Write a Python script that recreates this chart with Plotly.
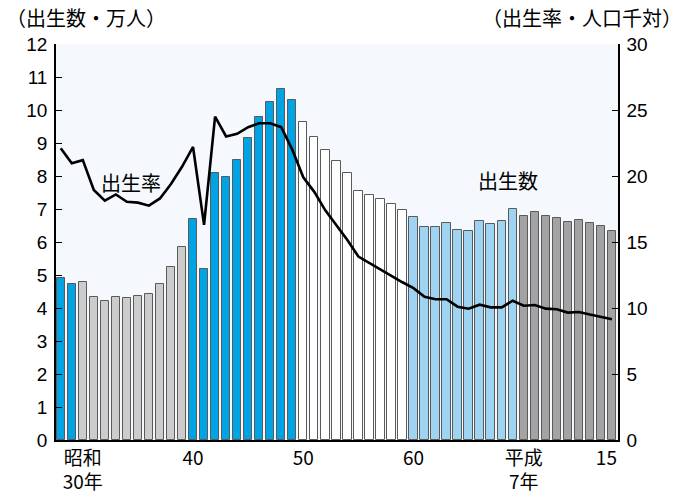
import plotly.graph_objects as go

years = list(range(1953, 2004))
births = [4.90, 4.73, 4.80, 4.34, 4.21, 4.34, 4.31, 4.36, 4.43, 4.72,
          5.23, 5.86, 6.69, 5.17, 8.10, 7.98, 8.49, 9.14, 9.78, 10.24,
          10.64, 10.29, 9.63, 9.19, 8.79, 8.46, 8.08, 7.55, 7.41, 7.29,
          7.14, 6.98, 6.75, 6.46, 6.46, 6.57, 6.36, 6.34, 6.63, 6.55,
          6.65, 7.00, 6.80, 6.90, 6.78, 6.74, 6.61, 6.66, 6.57, 6.49, 6.34]
rate = [22.1, 20.96, 21.2, 18.94, 18.13, 18.6, 18.05, 17.98, 17.75, 18.3,
        19.4, 20.7, 22.2, 16.3, 24.5, 23.0, 23.2, 23.7, 24.0, 24.0,
        23.7, 22.0, 19.9, 18.8, 17.4, 16.3, 15.15, 13.9, 13.4, 12.9,
        12.4, 11.95, 11.5, 10.85, 10.66, 10.66, 10.1, 9.95, 10.25, 10.05,
        10.05, 10.55, 10.17, 10.23, 9.95, 9.9, 9.65, 9.7, 9.5, 9.35, 9.15]
tick_years = [1955, 1965, 1975, 1985, 1995, 2003]
tick_labels = ["昭和<br>30年", "40", "50", "60", "平成<br>7年", "15"]
era_starts = [1953, 1955, 1965, 1975, 1985, 1995]

era_colors = ["#00a3e4", "#cccccc", "#00a3e4", "#ffffff", "#9fd3f2", "#a3a3a3"]

def era_color(y):
    idx = 0
    for i, s in enumerate(era_starts):
        if y >= s:
            idx = i
    return era_colors[idx]

colors = [era_color(y) for y in years]

num_font = "Liberation Sans, Arial, Noto Sans CJK JP"
jp_font = "Noto Sans CJK JP, Liberation Sans"

fig = go.Figure()
fig.add_trace(go.Bar(
    x=years, y=births, width=0.76,
    marker=dict(color=colors, line=dict(color="#5a5a5a", width=1)),
    yaxis="y", showlegend=False, hoverinfo="x+y"))
fig.add_trace(go.Scatter(
    x=years, y=rate, mode="lines",
    line=dict(color="black", width=2.6),
    yaxis="y2", showlegend=False))

fig.update_layout(
    width=687, height=496,
    margin=dict(l=56, r=69, t=44, b=56),
    paper_bgcolor="white",
    plot_bgcolor="#f5f9fd",
    bargap=0,
    xaxis=dict(range=[1952.57, 2003.55], tickvals=[1955, 1965, 1975, 1985, 1995, 2002.5],
               ticktext=tick_labels, showgrid=False, zeroline=False, automargin=False,
               showline=True, linecolor="black", linewidth=1.5, ticks="",
               tickfont=dict(family=jp_font, size=19, color="black")),
    yaxis=dict(range=[0, 12], dtick=1, showgrid=False, zeroline=False, automargin=False,
               showline=True, linecolor="black", linewidth=1.5,
               ticks="inside", ticklen=6, tickcolor="black", tickwidth=1,
               ticklabelstandoff=3,
               tickfont=dict(family=num_font, size=19, color="black")),
    yaxis2=dict(range=[0, 30], dtick=5, overlaying="y", side="right",
                showgrid=False, zeroline=False, automargin=False,
                showline=True, linecolor="black", linewidth=1.5,
                ticks="inside", ticklen=6, tickcolor="black", tickwidth=1,
                ticklabelstandoff=3,
                tickfont=dict(family=num_font, size=19, color="black")),
    annotations=[
        dict(text="（出生数・万人）", xref="paper", yref="paper",
             x=-0.093, y=1.066, xanchor="left", yanchor="middle", showarrow=False,
             font=dict(family=jp_font, size=20, color="black")),
        dict(text="（出生率・人口千対）", xref="paper", yref="paper",
             x=1.118, y=1.066, xanchor="right", yanchor="middle", showarrow=False,
             font=dict(family=jp_font, size=20, color="black")),
        dict(text="出生率", x=1959.4, y=7.79, xref="x", yref="y",
             showarrow=False, font=dict(family=jp_font, size=20, color="black")),
        dict(text="出生数", x=1993.6, y=7.85, xref="x", yref="y",
             showarrow=False, font=dict(family=jp_font, size=20, color="black")),
    ],
)

fig.write_html("out.html", config={"displayModeBar": False},
               post_script="document.body.style.margin='0px';")
